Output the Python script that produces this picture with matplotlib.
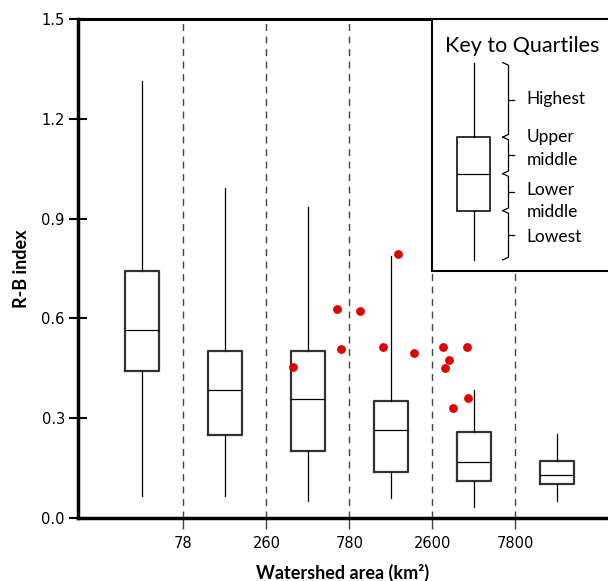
import matplotlib.pyplot as plt
from matplotlib.lines import Line2D

# box statistics per watershed-area class
whislo = [0.066, 0.066, 0.052, 0.059, 0.034, 0.052]
q1 = [0.441, 0.249, 0.202, 0.137, 0.111, 0.103]
med = [0.564, 0.385, 0.357, 0.265, 0.169, 0.130]
q3 = [0.743, 0.503, 0.503, 0.353, 0.259, 0.170]
whishi = [1.314, 0.991, 0.934, 0.788, 0.385, 0.252]

# red points
pts_x = [1.824, 2.355, 2.625, 2.396, 3.083, 2.909, 3.279,
         3.633, 3.918, 3.701, 3.653, 3.927, 3.746]
pts_y = [0.453, 0.628, 0.621, 0.507, 0.793, 0.515, 0.495,
         0.514, 0.514, 0.475, 0.450, 0.362, 0.332]

area_breaks = ['78', '260', '780', '2600', '7800']
yticks = [0.0, 0.3, 0.6, 0.9, 1.2, 1.5]

# key box
key_stats = dict(whislo=0.776, q1=0.924, med=1.035, q3=1.145, whishi=1.369)
key_lines = ['Highest', 'Upper', 'middle', 'Lower', 'middle', 'Lowest']
key_line_y = [1.259, 1.146, 1.076, 0.987, 0.920, 0.844]

W, H = 608, 581
fig = plt.figure(figsize=(W / 100, H / 100), dpi=100)
ax = fig.add_axes([78 / W, (H - 518) / H, (608 - 78) / W, (518 - 19) / H])

stats = [dict(whislo=a, q1=b, med=c, q3=d, whishi=e, fliers=[])
         for a, b, c, d, e in zip(whislo, q1, med, q3, whishi)]
ax.bxp(stats, positions=range(len(stats)), widths=0.41, showcaps=False,
       boxprops=dict(color='#333333', linewidth=1.6),
       whiskerprops=dict(color='black', linewidth=0.9),
       medianprops=dict(color='black', linewidth=0.9), zorder=3)

ax.scatter(pts_x, pts_y, s=40, color='#e00000', zorder=4, linewidths=0)

for i in range(len(area_breaks)):
    ax.axvline(i + 0.5, color='#444444', linestyle=(0, (5, 4)),
               linewidth=1.0, zorder=1)

ax.set_xlim(-0.772, 5.62)
ax.set_ylim(0, 1.5)
ax.set_yticks(yticks)
ax.set_yticklabels(['%.1f' % v for v in yticks], fontsize=10.5,
                   family='DejaVu Sans')
ax.set_xticks([i + 0.5 for i in range(len(area_breaks))])
ax.set_xticklabels(area_breaks, fontsize=10.5, family='DejaVu Sans')
ax.tick_params(axis='y', direction='inout', length=13, width=1.5, pad=3)
ax.tick_params(axis='x', direction='out', length=8, width=1.0,
               color='#444444', pad=5)

for s in ['left', 'bottom']:
    ax.spines[s].set_linewidth(2.5)
ax.spines['top'].set_linewidth(2.2)
ax.spines['right'].set_visible(False)

ax.set_ylabel('R-B index', fontsize=13, fontweight='bold', family='Lato',
              labelpad=8)
ax.set_xlabel('Watershed area (km²)', fontsize=13, fontweight='bold',
              family='Lato', labelpad=9)

# key to quartiles
ax.add_patch(plt.Rectangle((3.5, 0.743), 2.2, 1.5 - 0.743, facecolor='white',
                           edgecolor='black', linewidth=1.5, zorder=5,
                           clip_on=False))
ax.text(4.58, 1.418, 'Key to Quartiles', fontsize=15.5, family='Lato',
        ha='center', va='center', zorder=6)
key_stats['fliers'] = []
ax.bxp([key_stats], positions=[4.0], widths=0.4, showcaps=False,
       boxprops=dict(color='#333333', linewidth=1.4),
       whiskerprops=dict(color='black', linewidth=0.9),
       medianprops=dict(color='black', linewidth=0.9), zorder=6,
       manage_ticks=False)

edges = [key_stats['whishi'], key_stats['q3'], key_stats['med'],
         key_stats['q1'], key_stats['whislo']]
xa, xb, xc = 4.35, 4.42, 4.49
for top, bot in zip(edges[:-1], edges[1:]):
    mid = (top + bot) / 2
    ax.add_line(Line2D([xa, xb, xb, xb, xa],
                       [top, top - 0.008, mid, bot + 0.008, bot],
                       color='black', linewidth=0.9, zorder=6))
    ax.add_line(Line2D([xb, xc], [mid, mid], color='black', linewidth=0.9,
                       zorder=6))
for lab, y in zip(key_lines, key_line_y):
    ax.text(4.64, y, lab, fontsize=12.5, family='Lato', ha='left',
            va='center', zorder=6)

fig.savefig('out.png', dpi=100)
